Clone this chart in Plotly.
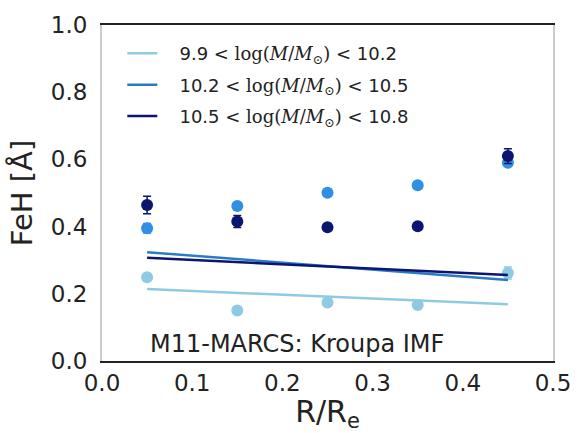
import plotly.graph_objects as go

# Radial bins (R / R_e)
radius = [0.05, 0.15, 0.25, 0.35, 0.45]

# FeH equivalent widths per mass bin
feh_low = [0.249, 0.150, 0.174, 0.167, 0.262]
feh_mid = [0.395, 0.461, 0.501, 0.523, 0.590]
feh_high = [0.464, 0.415, 0.398, 0.401, 0.610]

err_low = [0.0, 0.0, 0.0, 0.0, 0.018]
err_mid = [0.014, 0.0, 0.0, 0.0, 0.0]
err_high = [0.026, 0.018, 0.0, 0.0, 0.022]

# Linear fits across the radial range
fit_x = [0.05, 0.45]
fit_low = [0.214, 0.169]
fit_mid = [0.324, 0.241]
fit_high = [0.307, 0.256]

labels = [
    "9.9 < <span style='font-family:DejaVu Serif'>log(<i>M</i>/<i>M</i><sub>⊙</sub>)</span> < 10.2",
    "10.2 < <span style='font-family:DejaVu Serif'>log(<i>M</i>/<i>M</i><sub>⊙</sub>)</span> < 10.5",
    "10.5 < <span style='font-family:DejaVu Serif'>log(<i>M</i>/<i>M</i><sub>⊙</sub>)</span> < 10.8",
]

marker_colors = ["#8ecbe2", "#2f8fe2", "#0b1670"]
line_colors = ["#8ecbe2", "#2a7ac8", "#0b1670"]

pts = [feh_low, feh_mid, feh_high]
errs = [err_low, err_mid, err_high]
fits = [fit_low, fit_mid, fit_high]

fig = go.Figure()

for i in range(3):
    fig.add_trace(go.Scatter(
        x=radius, y=pts[i], mode="markers",
        marker=dict(color=marker_colors[i], size=12, line=dict(width=0)),
        error_y=dict(type="data", array=errs[i], visible=True,
                     color=marker_colors[i], thickness=1.5, width=4),
        showlegend=False,
    ))

for i in range(3):
    fig.add_trace(go.Scatter(
        x=fit_x, y=fits[i], mode="lines",
        line=dict(color=line_colors[i], width=2.5),
        name="\u00a0\u00a0\u00a0" + labels[i],
        legendgroup=f"g{i}",
    ))

fig.add_annotation(
    x=0.2157, y=0.05, xref="x", yref="y",
    text="M11-MARCS: Kroupa IMF", showarrow=False,
    font=dict(family="DejaVu Sans", size=24, color="#222222"),
)

fig.update_layout(
    width=583, height=433,
    margin=dict(l=102, r=19, t=21, b=72),
    paper_bgcolor="white", plot_bgcolor="white",
    font=dict(family="DejaVu Sans", color="#222222"),
    legend=dict(
        x=0.045, y=0.97, xanchor="left", yanchor="top",
        bgcolor="rgba(0,0,0,0)", borderwidth=0,
        font=dict(family="DejaVu Sans", size=18, color="#222222"),
        tracegroupgap=5,
    ),
    xaxis=dict(
        range=[0, 0.5], tickvals=[0, 0.1, 0.2, 0.3, 0.4, 0.5],
        tickformat=".1f", showgrid=False, zeroline=False,
        showline=True, linecolor="#222222", linewidth=2, mirror=True,
        tickfont=dict(size=23), ticks="",
        title=dict(text="R/R<sub>e</sub>", font=dict(size=30), standoff=4),
    ),
    yaxis=dict(
        range=[0, 1], tickvals=[0, 0.2, 0.4, 0.6, 0.8, 1.0],
        tickformat=".1f", showgrid=False, zeroline=False,
        showline=True, linecolor="#cccccc", linewidth=2, mirror=True,
        tickfont=dict(size=23), ticks="", ticklabelstandoff=8,
        title=dict(text="FeH [Å]", font=dict(size=29), standoff=10),
    ),
)

fig.write_html("out.html")
